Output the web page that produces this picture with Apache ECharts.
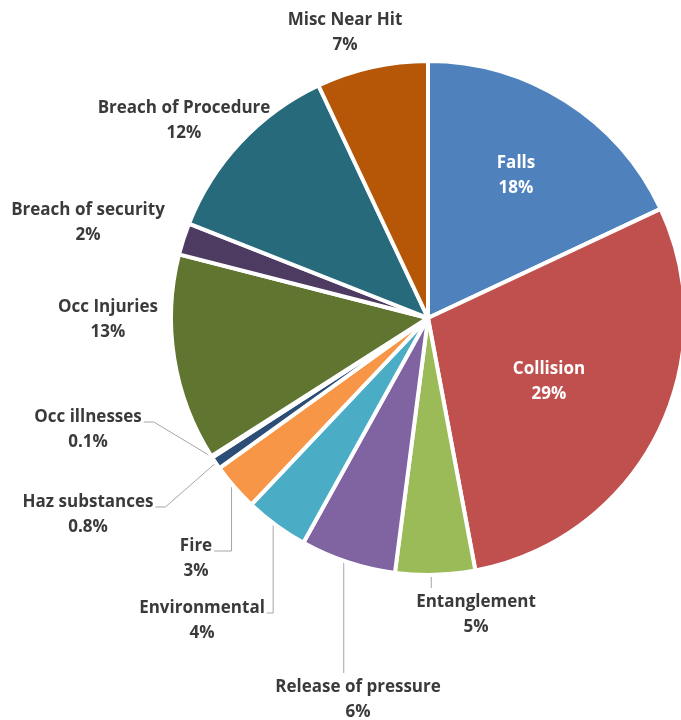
<!DOCTYPE html>
<html><head><meta charset="utf-8">
<script src="https://cdn.jsdelivr.net/npm/echarts@6/dist/echarts.min.js"></script>
<style>html,body{margin:0;padding:0;background:#fff}#c{width:681px;height:720px}</style>
</head><body><div id="c"></div>
<script>
const categories = ['Falls','Collision','Entanglement','Release of pressure','Environmental','Fire','Haz substances','Occ illnesses','Occ Injuries','Breach of security','Breach of Procedure','Misc Near Hit'];
const percentages = [18,29,5,6,4,3,0.8,0.1,13,2,12,7];
const colors = ['#4F81BD','#C0504D','#9BBB59','#8064A2','#4BACC6','#F79646','#2C4D75','#772C2A','#5F7530','#4D3B62','#276A7C','#B65708'];
const insideLabels = ['Falls','Collision'];

// label block centres and leader-line style (layout only)
const labelPlacement = {
  'Falls': {x:516, y:176},
  'Collision': {x:549, y:382},
  'Entanglement': {x:476, y:615, line:'u'},
  'Release of pressure': {x:358, y:700, line:'u'},
  'Environmental': {x:202, y:621, line:'v'},
  'Fire': {x:196, y:559, line:'v'},
  'Haz substances': {x:88, y:515, line:'h'},
  'Occ illnesses': {x:88, y:430, line:'h'},
  'Occ Injuries': {x:108, y:320},
  'Breach of security': {x:88, y:223},
  'Breach of Procedure': {x:184, y:121},
  'Misc Near Hit': {x:345, y:33}
};

const chart = echarts.init(document.getElementById('c'), null, {renderer:'canvas'});
const data = categories.map((n,i) => {
  const inside = insideLabels.includes(n);
  const pl = labelPlacement[n];
  return {
    name: n, value: percentages[i],
    itemStyle: {color: colors[i]},
    label: inside ? {position:'inside', color:'#ffffff'} : {position:'outside'},
    labelLine: {show: !!pl.line}
  };
});
chart.setOption({
  animation:false,
  series:[{
    type:'pie',
    center:[428,318],
    radius:257,
    startAngle:90,
    clockwise:true,
    avoidLabelOverlap:false,
    emphasis:{disabled:true},
    itemStyle:{borderColor:'#ffffff', borderWidth:4},
    label:{
      formatter: p => p.name + '\n' + p.value + '%',
      fontFamily:'Open Sans', fontWeight:'bold', fontSize:17, lineHeight:25,
      color:'#3a3a3a', align:'center'
    },
    labelLine:{lineStyle:{color:'#A6A6A6', width:1}, length:10, length2:10},
    labelLayout: function (p) {
      const n = categories[p.dataIndex];
      const pl = labelPlacement[n];
      const out = {x: pl.x, y: pl.y, align:'center', verticalAlign:'middle'};
      if (pl.line && p.labelLinePoints) {
        const e = p.labelLinePoints[0];
        const w = p.labelRect.width, h = p.labelRect.height;
        if (pl.line === 'h') {
          const sx = pl.x + w/2 + 2, sy = pl.y - 8;
          out.labelLinePoints = [[sx, sy],[sx+10, sy],[e[0], e[1]]];
        } else if (pl.line === 'v') {
          const sx = pl.x + w/2 + 2, sy = pl.y - 8;
          out.labelLinePoints = [[sx, sy],[e[0]-3, sy],[e[0]-3, e[1]]];
        } else {
          out.labelLinePoints = [[e[0]-4, pl.y - h/2 - 2],[e[0]-4, e[1]]];
        }
      }
      return out;
    },
    data: data
  }]
});
</script></body></html>
